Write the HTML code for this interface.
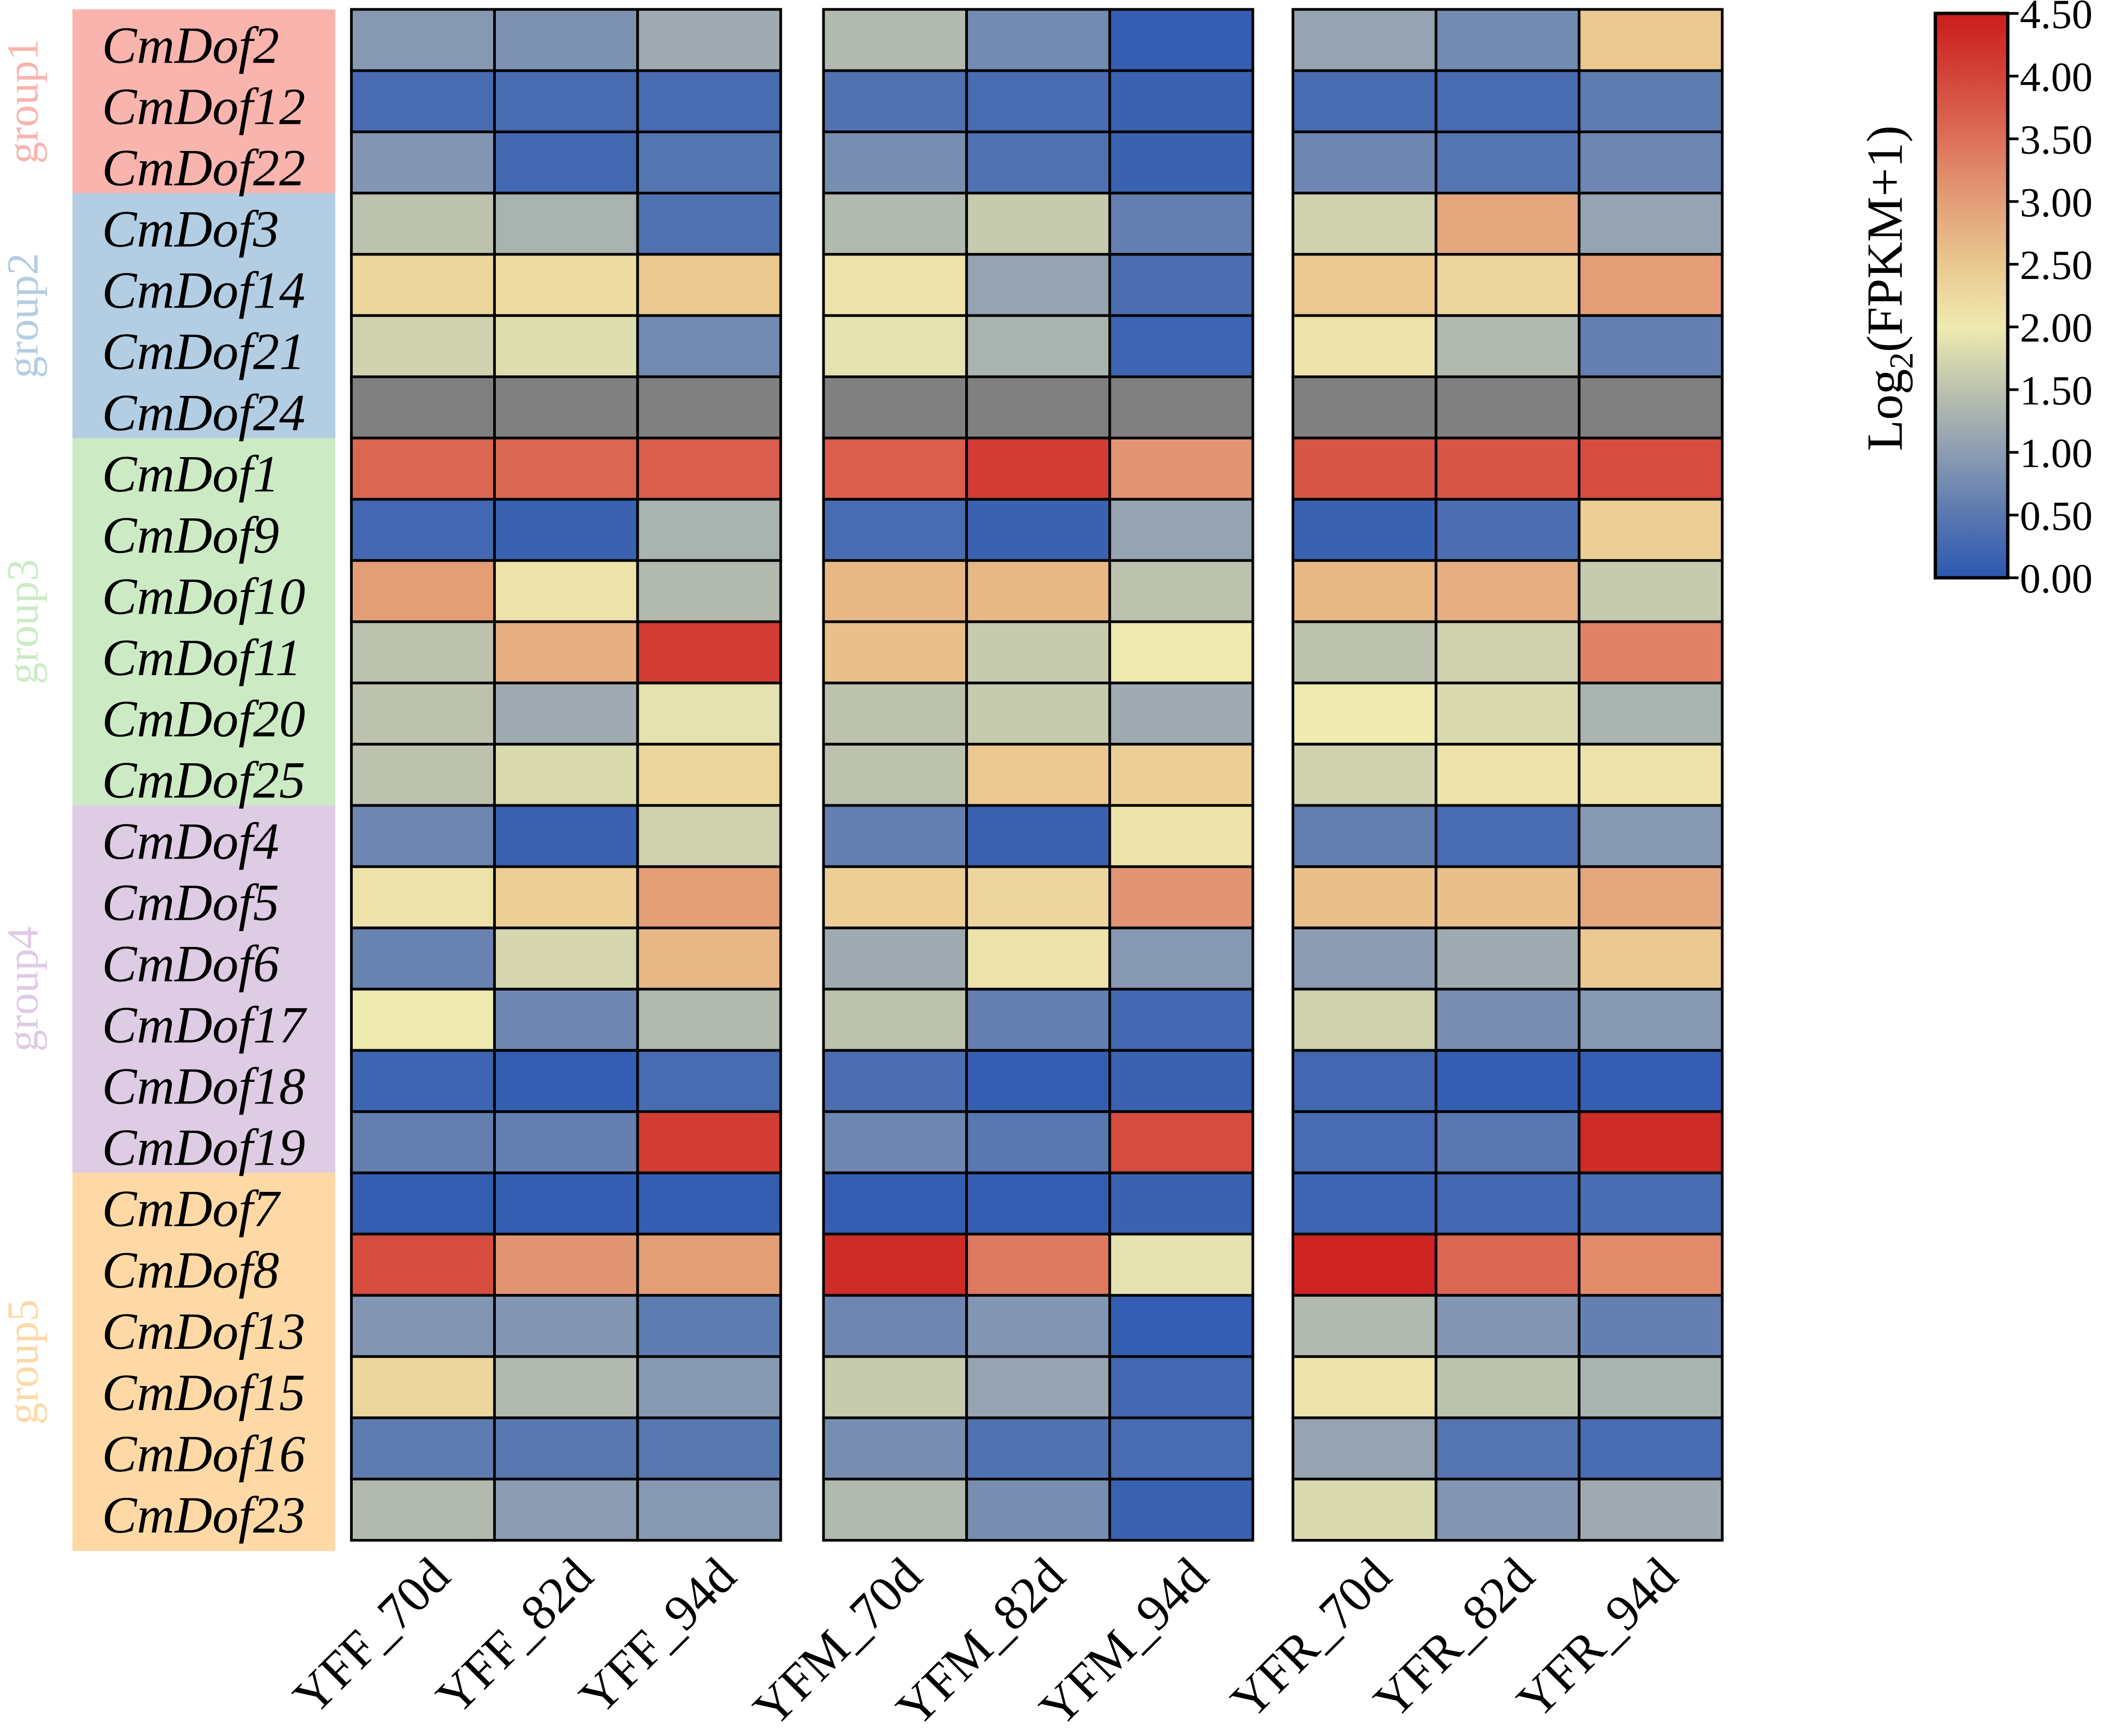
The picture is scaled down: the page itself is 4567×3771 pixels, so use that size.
<!DOCTYPE html>
<html><head><meta charset="utf-8"><style>
html,body{margin:0;padding:0;background:#fff}
svg{display:block}
text{font-family:"Liberation Serif",serif}
</style></head><body>
<svg id="chart" width="4567" height="3771" viewBox="0 0 1568 1295" preserveAspectRatio="none" xmlns="http://www.w3.org/2000/svg">
<defs>
<linearGradient id="cbgrad" x1="0" y1="1" x2="0" y2="0">
<stop offset="0" stop-color="#2c58b2"/><stop offset="0.111" stop-color="#5a78b0"/>
<stop offset="0.222" stop-color="#8c9cb2"/><stop offset="0.333" stop-color="#bcc2ae"/>
<stop offset="0.444" stop-color="#eeeab0"/><stop offset="0.556" stop-color="#eac890"/>
<stop offset="0.667" stop-color="#e39e78"/><stop offset="0.778" stop-color="#dc7058"/>
<stop offset="0.889" stop-color="#d4443a"/><stop offset="1" stop-color="#cc1c1c"/>
</linearGradient>
</defs>
<g id="groups"></g><g id="cells"></g><g id="xlabels"></g>
<g id="colorbar">
<rect x="1443" y="10" width="54" height="421" fill="url(#cbgrad)" stroke="#000" stroke-width="2.5"/>
<text transform="translate(1418,215) rotate(-90)" text-anchor="middle" font-size="38">Log<tspan font-size="25" dy="8">2</tspan><tspan dy="-8">(FPKM+1)</tspan></text>
</g>
</svg>
<script>
const genes=["CmDof2","CmDof12","CmDof22","CmDof3","CmDof14","CmDof21","CmDof24","CmDof1","CmDof9","CmDof10","CmDof11","CmDof20","CmDof25","CmDof4","CmDof5","CmDof6","CmDof17","CmDof18","CmDof19","CmDof7","CmDof8","CmDof13","CmDof15","CmDof16","CmDof23"];
const samples=["YFF_70d","YFF_82d","YFF_94d","YFM_70d","YFM_82d","YFM_94d","YFR_70d","YFR_82d","YFR_94d"];
const groupNames=["group1","group2","group3","group4","group5"];
const groupSizes=[3,4,6,6,6];
const groupColors=["#f9b4ae","#b3cde3","#ccebc5","#decbe4","#fed9a6"];
const cbTicks=[0,0.5,1,1.5,2,2.5,3,3.5,4,4.5];
const values=[
[0.95,0.85,1.2,1.4,0.75,0.1,1.1,0.75,2.5],
[0.3,0.3,0.3,0.4,0.3,0.15,0.3,0.3,0.55],
[0.9,0.25,0.45,0.8,0.4,0.15,0.7,0.45,0.7],
[1.5,1.3,0.4,1.4,1.6,0.6,1.7,2.9,1.1],
[2.3,2.2,2.5,2.1,1.1,0.35,2.5,2.3,3.0],
[1.7,1.85,0.75,1.9,1.3,0.2,2.1,1.4,0.6],
[null,null,null,null,null,null,null,null,null],
[3.6,3.6,3.7,3.7,4.1,3.1,3.8,3.8,3.9],
[0.25,0.15,1.3,0.3,0.15,1.1,0.15,0.35,2.4],
[3.0,2.1,1.4,2.7,2.7,1.5,2.7,2.8,1.6],
[1.5,2.8,4.1,2.6,1.6,2.0,1.5,1.7,3.3],
[1.5,1.2,1.9,1.5,1.6,1.2,2.0,1.8,1.3],
[1.5,1.8,2.3,1.5,2.5,2.4,1.7,2.1,2.1],
[0.7,0.15,1.7,0.6,0.15,2.1,0.6,0.3,0.95],
[2.1,2.4,3.0,2.4,2.3,3.1,2.6,2.6,2.9],
[0.65,1.75,2.7,1.2,2.1,0.95,1.0,1.2,2.5],
[2.0,0.7,1.4,1.5,0.6,0.25,1.7,0.8,0.95],
[0.2,0.1,0.3,0.35,0.1,0.15,0.25,0.1,0.1],
[0.6,0.6,4.1,0.7,0.5,3.9,0.3,0.5,4.3],
[0.1,0.1,0.1,0.1,0.1,0.15,0.2,0.25,0.3],
[3.9,3.1,3.0,4.3,3.4,1.9,4.4,3.6,3.2],
[0.9,0.9,0.55,0.7,0.9,0.1,1.4,0.9,0.6],
[2.3,1.4,0.95,1.6,1.1,0.25,2.1,1.5,1.3],
[0.55,0.5,0.5,0.8,0.4,0.3,1.1,0.45,0.3],
[1.4,1.0,0.95,1.4,0.8,0.15,1.8,0.9,1.2]];
const NS="http://www.w3.org/2000/svg";
const stops=[[0,"#2c58b2"],[0.5,"#5a78b0"],[1,"#8c9cb2"],[1.5,"#bcc2ae"],[2,"#eeeab0"],[2.5,"#eac890"],[3,"#e39e78"],[3.5,"#dc7058"],[4,"#d4443a"],[4.5,"#cc1c1c"]];
function hx(c){return [1,3,5].map(i=>parseInt(c.substr(i,2),16));}
function color(v){if(v===null)return "#808080";v=Math.max(0,Math.min(4.5,v));
 for(let i=0;i<stops.length-1;i++){if(v<=stops[i+1][0]){const t=(v-stops[i][0])/(stops[i+1][0]-stops[i][0]);const a=hx(stops[i][1]),b=hx(stops[i+1][1]);return "rgb("+a.map((x,k)=>Math.round(x+(b[k]-x)*t)).join(",")+")";}}return stops[stops.length-1][1];}
const top0=7,bot0=1149,rowH=(bot0-top0)/genes.length,colW=106.7;
const panelX=[262,614,964];
function yScale(r){return top0+r*rowH;}
function xScale(c){return panelX[Math.floor(c/3)]+(c%3)*colW;}
function mk(tag,attrs,parent){const e=document.createElementNS(NS,tag);for(const k in attrs)e.setAttribute(k,attrs[k]);parent.appendChild(e);return e;}
const G=document.getElementById("groups"),C=document.getElementById("cells"),X=document.getElementById("xlabels"),CB=document.getElementById("colorbar");
let r0=0;
groupNames.forEach((g,i)=>{
 const y1=yScale(r0),y2=(i===groupNames.length-1)?1157:yScale(r0+groupSizes[i]);
 const b=mk("rect",{x:54,y:y1,width:196,height:y2-y1,fill:groupColors[i]},G);
 
 
 const t=mk("text",{transform:"translate(28,"+((y1+y2)/2)+") rotate(-90)","text-anchor":"middle","font-size":"33",fill:groupColors[i]},G);
 t.textContent=g;
 
 
 r0+=groupSizes[i];
});
genes.forEach((g,r)=>{
 const t=mk("text",{x:76,y:yScale(r)+rowH/2+17,"font-size":"39","font-style":"italic"},G);
 t.textContent=g;
 
 
 values[r].forEach((v,c)=>{
  const rc=mk("rect",{x:xScale(c),y:yScale(r),width:colW,height:rowH,fill:color(v),stroke:"#000","stroke-width":"2"},C);
  
  
 });
});
samples.forEach((s,c)=>{
 const cx=xScale(c)+colW/2+22;
 const t=mk("text",{transform:"translate("+cx+",1178) rotate(-45)","text-anchor":"end","font-size":"38"},X);
 t.textContent=s;
 
 
});
cbTicks.forEach(v=>{
 const y=431-v/4.5*421;
 const l=mk("line",{x1:1497,y1:y,x2:1505,y2:y,stroke:"#000","stroke-width":"2"},CB);
 
 
 const t=mk("text",{x:1506,y:y+11,"font-size":"31"},CB);
 t.textContent=v.toFixed(2);
 
 
});
</script>
</body></html>
